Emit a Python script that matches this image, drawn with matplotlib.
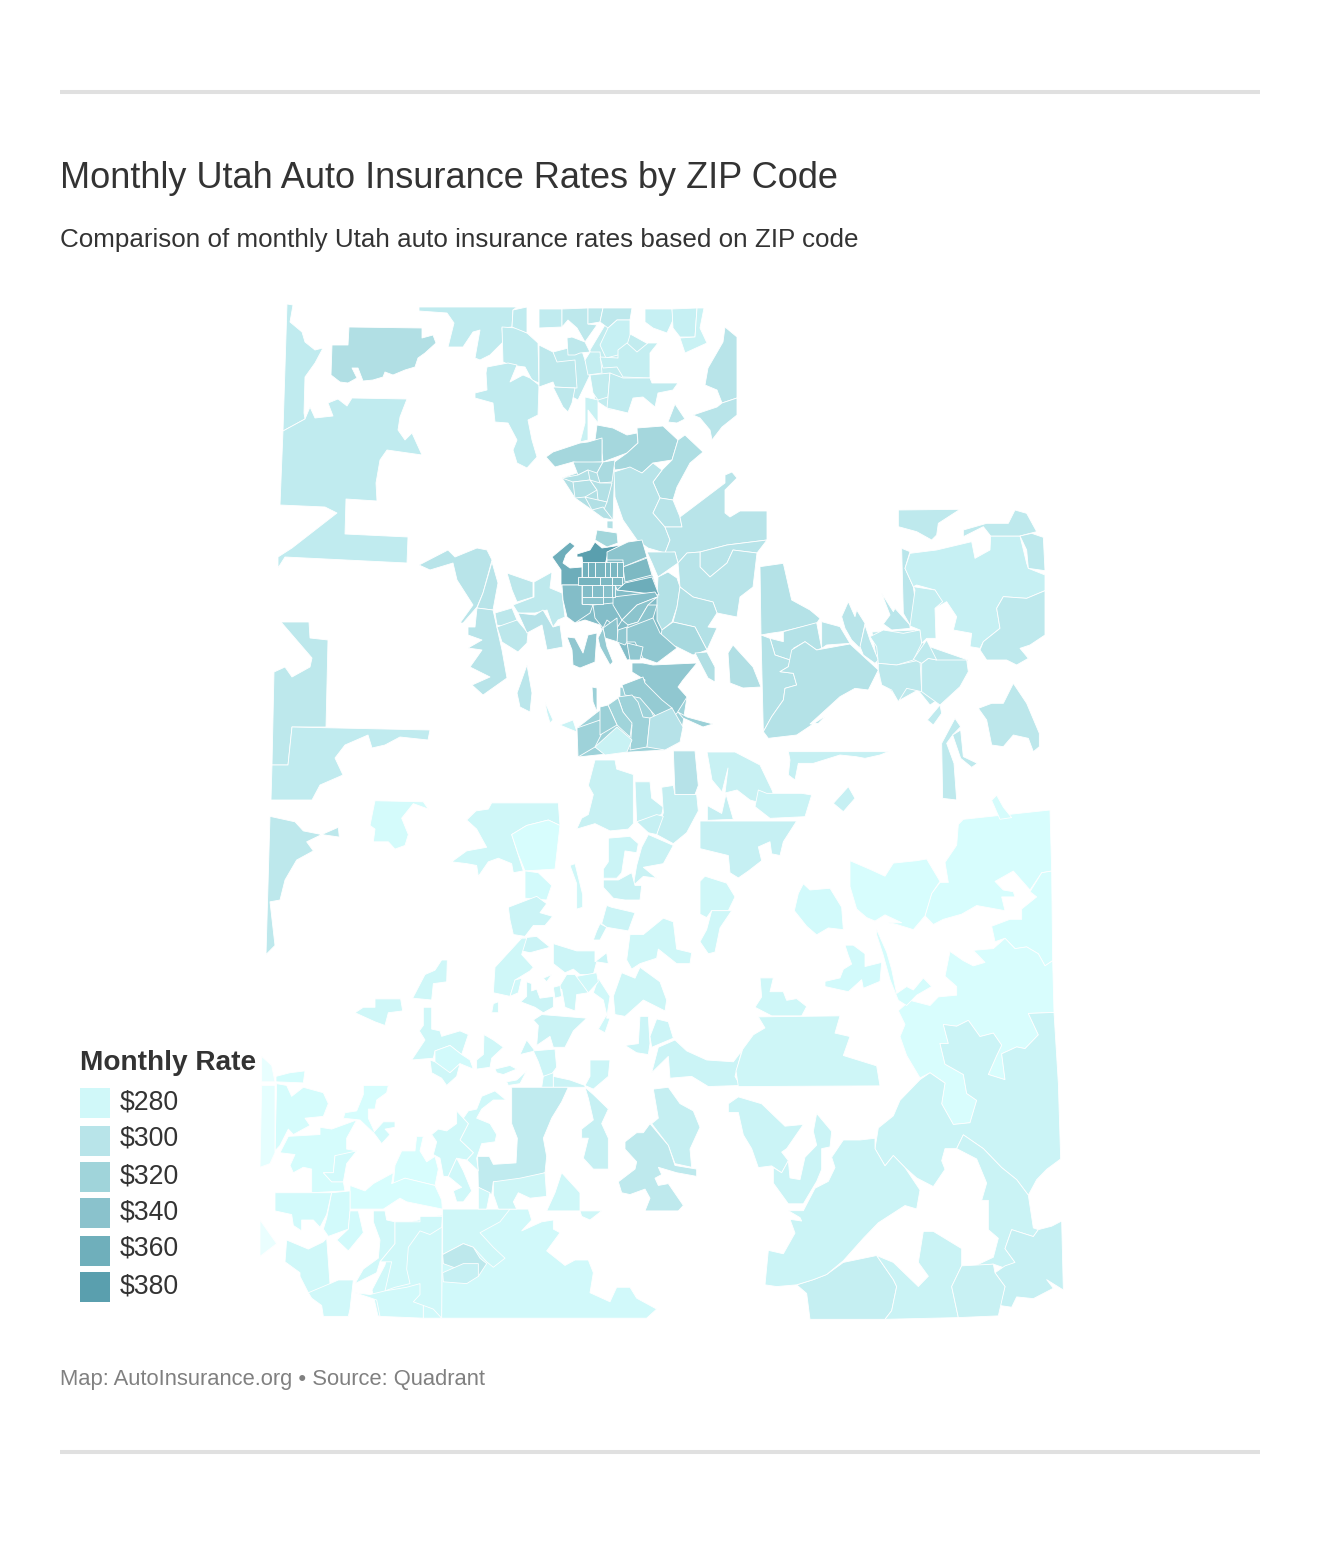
import matplotlib
matplotlib.use("Agg")
import matplotlib.pyplot as plt
from matplotlib.collections import PolyCollection
import numpy as np

plt.rcParams['font.family'] = ['Liberation Sans', 'DejaVu Sans']

title = "Monthly Utah Auto Insurance Rates by ZIP Code"
subtitle = "Comparison of monthly Utah auto insurance rates based on ZIP code"
footer = "Map: AutoInsurance.org \u2022 Source: Quadrant"
legend_title = "Monthly Rate"
legend_rates = [280, 300, 320, 340, 360, 380]
legend_labels = ["$280", "$300", "$320", "$340", "$360", "$380"]
legend_colors = ["#d0f8f9", "#b8e4e9", "#a0d4da", "#8ac2cc", "#6fafbb", "#5a9fae"]

# larger areas that sit under the small ZIPs
under_zips = [
    (292, [(590,350),(605,325),(632,335),(650,345),(650,380),(640,395),(610,410),(595,400)]),
    (294, [(553,352),(580,345),(590,375),(578,400),(555,388)]),
    (306, [(562,478),(615,460),(613,520),(603,518),(592,510),(575,498)]),
    (345, [(561,585),(660,592),(677,648),(657,663),(643,658),(627,660),(618,642),(605,638),(600,625),(585,620),(575,623)]),
    (322, [(620,687),(687,697),(680,742),(665,750),(630,752),(597,755),(578,757),(577,728),(600,710),(620,697)]),
    (345, [(607,552),(628,542),(647,558),(659,595),(617,590),(607,562)]),
    (296, [(872,632),(915,630),(925,645),(968,660),(960,685),(930,705),(918,690),(900,700),(880,680)]),
    (280, [(395,1225),(442,1215),(442,1318),(378,1316),(372,1290),(385,1265)]),
]

# ZIP outlines, (rate, outline). in plain pixels
north_zips = [
    (293, [(287,304),(293,305),(290,322),(302,332),(305,342),(315,350),(323,348),(315,363),(305,377),(304,413),(305,419),(283,431)]),
    (306, [(349,327),(422,328),(422,338),(433,335),(436,343),(425,353),(418,358),(415,367),(405,370),(393,375),(385,372),(383,377),(373,380),(363,381),(358,368),(352,368),(357,378),(348,383),(340,382),(331,375),(332,345),(348,345)]),
    (293, [(283,431),(305,419),(310,407),(315,418),(333,416),(328,403),(338,399),(347,406),(352,398),(407,399),(400,417),(398,430),(405,440),(412,433),(422,455),(387,450),(380,460),(376,483),(377,501),(346,499),(345,534),(408,537),(407,563),(285,557),(278,568),(278,557),(292,548),(337,513),(325,507),(280,505)]),
    (296, [(281,622),(309,622),(310,638),(328,640),(326,727),(292,727),(288,765),(272,765),(274,672),(285,667),(292,677),(310,667),(312,658)]),
    (293, [(292,727),(430,730),(428,740),(400,737),(385,745),(372,748),(368,735),(345,745),(335,758),(343,775),(320,785),(312,800),(271,800),(272,765),(288,765)]),
    (293, [(419,307),(517,307),(513,310),(512,327),(502,328),(503,342),(490,355),(480,360),(475,358),(480,330),(473,332),(463,347),(448,347),(454,323),(447,313),(419,311)]),
    (293, [(502,327),(517,328),(527,333),(538,343),(539,383),(532,380),(525,367),(510,365),(503,362)]),
    (293, [(513,310),(527,307),(527,333),(512,327)]),
    (293, [(487,367),(508,363),(517,365),(510,382),(523,375),(530,378),(539,385),(538,415),(528,420),(532,440),(537,457),(527,468),(517,463),(513,450),(517,440),(508,423),(495,422),(493,403),(475,398),(475,393),(487,390),(486,373)]),
    (293, [(539,309),(562,309),(562,327),(539,328)]),
    (296, [(562,309),(588,308),(588,324),(597,325),(585,342),(577,328),(568,320),(562,327)]),
    (296, [(588,308),(603,308),(600,322),(588,324)]),
    (296, [(603,308),(632,308),(630,320),(617,320),(608,328),(600,322)]),
    (288, [(608,328),(617,320),(630,320),(630,335),(627,345),(618,355),(606,358),(600,345)]),
    (296, [(539,345),(553,352),(557,362),(575,360),(577,388),(555,387),(553,382),(539,387)]),
    (296, [(567,338),(572,337),(585,342),(590,352),(580,353),(575,355),(568,355)]),
    (296, [(553,387),(575,388),(572,403),(568,412),(563,407),(558,397)]),
    (290, [(590,352),(600,352),(602,373),(588,375),(585,360)]),
    (292, [(590,375),(610,373),(608,397),(598,400),(593,393)]),
    (290, [(600,357),(618,358),(618,350),(627,343),(637,352),(648,343),(658,343),(650,353),(650,378),(623,377),(617,367),(603,368)]),
    (293, [(610,373),(623,378),(650,378),(652,383),(678,383),(673,390),(658,393),(655,407),(643,397),(633,398),(628,413),(607,408),(608,397)]),
    (287, [(585,397),(598,400),(598,423),(588,410),(588,440),(580,442),(585,423)]),
    (288, [(645,309),(672,309),(673,320),(667,333),(653,328),(645,322)]),
    (288, [(672,309),(697,308),(695,337),(680,337),(673,328)]),
    (286, [(697,308),(704,308),(700,328),(707,343),(685,353),(680,338),(695,337)]),
    (300, [(725,327),(737,337),(737,398),(722,403),(717,390),(705,385),(708,368),(723,342)]),
    (300, [(722,403),(737,398),(737,415),(722,427),(712,440),(710,430),(700,418),(693,415),(717,407)]),
    (300, [(668,422),(675,404),(685,419),(677,423)]),
    (316, [(597,425),(613,428),(627,435),(637,433),(638,443),(627,453),(603,462),(602,453),(602,440),(595,440)]),
    (316, [(588,442),(602,438),(602,462),(580,463),(573,462),(555,467),(546,457),(553,452),(580,443)]),
    (316, [(637,428),(663,426),(678,440),(672,460),(653,463),(642,473),(630,468),(615,470),(613,463),(627,453),(638,443)]),
    (308, [(678,440),(685,435),(703,452),(690,463),(677,487),(673,500),(660,498),(653,482),(662,470),(672,460)]),
    (312, [(573,462),(603,462),(597,473),(588,470),(578,475)]),
    (312, [(603,462),(615,460),(612,482),(600,483),(597,473)]),
    (305, [(562,478),(578,475),(588,470),(590,480),(573,482)]),
    (305, [(573,482),(590,480),(597,490),(585,497),(575,498)]),
    (305, [(590,480),(600,483),(612,483),(607,502),(598,500),(597,490)]),
    (305, [(585,497),(598,500),(607,502),(603,512),(592,510)]),
    (305, [(592,510),(603,507),(613,520),(603,518)]),
    (305, [(607,521),(613,521),(613,529),(607,528)]),
    (300, [(614,472),(630,467),(642,473),(653,463),(662,470),(653,482),(660,498),(653,513),(665,527),(670,540),(665,553),(648,548),(637,540),(623,520),(615,497)]),
    (300, [(660,498),(673,500),(680,517),(682,527),(665,527),(653,513)]),
    (300, [(680,517),(725,483),(725,475),(732,472),(737,478),(725,490),(725,513),(730,517),(740,511),(767,511),(767,540),(727,545),(700,552),(687,553),(678,563),(675,552),(665,553),(670,540),(665,527),(682,527)]),
    (300, [(700,552),(727,545),(767,540),(757,553),(733,550),(727,563),(710,577),(700,567)]),
    (300, [(678,563),(687,553),(700,552),(700,567),(710,577),(727,563),(733,550),(757,553),(753,587),(740,597),(737,617),(717,613),(713,602),(693,597),(680,587)]),
    (300, [(647,552),(675,552),(678,563),(668,570),(658,577),(652,563)]),
    (304, [(658,577),(668,572),(677,578),(680,587),(677,607),(672,622),(662,630),(657,620),(657,597)]),
    (304, [(680,587),(693,597),(713,602),(717,613),(708,627),(717,628),(707,650),(695,627),(673,622),(677,607)]),
    (314, [(673,622),(695,627),(707,650),(693,655),(677,647),(660,640),(662,630)]),
    (306, [(695,653),(707,652),(715,667),(715,682),(708,678)]),
    (306, [(733,645),(753,667),(761,687),(743,688),(730,683),(728,653)]),
    (287, [(707,752),(735,752),(760,765),(772,790),(778,808),(750,800),(737,790),(725,793),(728,768),(722,792),(712,780)]),
    # tooele side
    (300, [(419,565),(448,550),(455,557),(477,548),(487,550),(492,560),(483,593),(477,607),(463,623),(460,623),(473,605),(457,580),(453,563),(430,570)]),
    (300, [(492,562),(498,583),(493,610),(477,608),(483,593)]),
    (300, [(477,608),(493,610),(502,650),(507,678),(483,695),(472,685),(490,677),(470,667),(482,650),(468,648),(482,640),(468,635),(468,627),(475,627)]),
    (297, [(507,573),(533,582),(533,597),(517,602),(512,590)]),
    (295, [(534,582),(552,572),(550,588),(562,593),(565,617),(558,620),(553,627),(547,610),(535,613),(518,613),(513,605),(534,597)]),
    (297, [(495,613),(512,608),(517,620),(505,627),(497,625)]),
    (297, [(497,627),(517,620),(528,633),(527,643),(518,652),(502,642)]),
    (302, [(518,613),(535,615),(543,610),(553,627),(560,625),(563,647),(547,650),(542,625),(527,633)]),
    (298, [(527,665),(532,693),(530,712),(520,707),(517,693)]),
    (285, [(545,702),(553,720),(550,723),(547,713)]),
    (285, [(560,725),(573,720),(577,732),(567,728)]),
]

# salt lake and utah counties
metro_zips = [
    (362, [(552,557),(570,542),(575,546),(566,555),(563,563),(570,568),(582,567),(582,585),(561,585),(561,570)]),
    (380, [(577,554),(590,550),(595,542),(602,548),(622,545),(608,552),(607,557),(605,565),(583,565),(582,557),(577,557)]),
    (318, [(597,530),(617,533),(618,543),(607,547),(595,540)]),
    (338, [(607,552),(628,542),(642,540),(647,557),(623,567),(623,560),(607,560)]),
    (350, [(623,567),(647,558),(652,575),(625,582)]),
    (362, [(625,583),(652,577),(659,595),(635,592),(617,590)]),
    (345, [(562,585),(582,585),(582,604),(593,605),(590,613),(575,623),(567,617),(563,600)]),
    (345, [(593,605),(613,603),(622,620),(617,628),(607,620),(603,628),(595,618)]),
    (345, [(613,597),(655,592),(658,597),(637,605),(622,620),(613,605)]),
    (338, [(622,620),(637,605),(657,597),(648,605),(638,622),(628,625)]),
    (338, [(628,625),(638,622),(648,605),(657,605),(653,618),(637,628),(627,633)]),
    (338, [(603,628),(617,618),(618,642),(605,638)]),
    (335, [(618,630),(627,627),(627,642),(625,645),(617,642)]),
    (335, [(627,628),(653,618),(660,633),(677,648),(657,663),(643,658),(635,642),(627,642)]),
    (335, [(627,643),(643,647),(640,660),(630,660)]),
    (335, [(567,637),(575,638),(583,653),(588,635),(597,633),(595,662),(580,668),(573,665),(572,650)]),
    (330, [(598,638),(603,628),(607,647),(613,662),(610,665),(600,647)]),
    (335, [(632,663),(643,663),(653,665),(697,663),(683,680),(678,687),(687,697),(677,713),(667,723),(653,715),(643,693),(645,680),(632,672)]),
    (330, [(622,685),(643,677),(645,683),(662,700),(672,708),(662,723),(652,712),(640,698),(625,695)]),
    (322, [(618,697),(632,695),(638,702),(643,717),(650,718),(647,747),(630,750),(632,725),(623,712)]),
    (320, [(608,705),(618,698),(623,712),(632,723),(630,737),(617,725)]),
    (322, [(577,728),(600,720),(602,733),(595,747),(578,757)]),
    (325, [(600,707),(608,705),(617,725),(600,735)]),
    (325, [(592,687),(597,688),(597,712),(593,702)]),
    (286, [(595,747),(617,727),(632,740),(627,752),(605,755)]),
    (302, [(647,747),(650,718),(672,708),(683,727),(680,742),(665,750)]),
    (325, [(678,712),(687,717),(713,724),(703,727),(683,718)]),
]

# little cells in the city, x0 x1 y0 y1 rate
city_x0 = [582,588,595,605,610,617, 578,600,612, 582,592,603,612, 582]
city_x1 = [588,595,605,610,617,623, 600,612,622, 592,603,612,615, 603]
city_y0 = [562,562,562,562,562,562, 577,577,577, 585,585,585,585, 597]
city_y1 = [577,577,577,577,577,577, 585,585,585, 597,597,597,597, 604]
city_rate = [358,358,355,352,352,350, 355,350,350, 345,345,342,342, 340]

# northeast, origin 750,500
ne_zips = [
    (303, [(30,200),(100,190),(125,300),(180,330),(210,355),(200,370),(95,395),(60,400),(33,405)]),
    (303, [(60,415),(100,425),(100,395),(200,368),(215,445),(200,450),(165,425),(130,445),(120,480),(75,465)]),
    (303, [(33,405),(60,415),(75,465),(120,480),(115,500),(90,515),(130,520),(140,555),(105,565),(100,600),(65,650),(40,695)]),
    (303, [(125,450),(165,425),(200,450),(300,432),(385,510),(355,570),(315,565),(270,590),(180,672),(205,670),(265,610),(230,645),(170,685),(140,705),(55,715),(40,695),(65,650),(100,600),(105,565),(140,555),(130,520),(90,515),(115,500)]),
    (300, [(215,365),(270,380),(300,430),(230,435),(215,445)]),
    (300, [(275,350),(295,305),(315,350),(320,330),(345,370),(330,445),(305,420),(285,385)]),
    (298, [(345,375),(360,420),(385,480),(375,490),(340,465),(330,440)]),
    (293, [(360,410),(400,390),(460,400),(510,390),(515,430),(490,480),(440,495),(385,490),(380,440)]),
    (298, [(395,280),(430,335),(435,325),(480,375),(480,385),(425,390),(400,372),(420,345)]),
    (296, [(385,510),(385,490),(440,495),(510,480),(515,575),(470,565),(445,605),(425,570),(395,555)]),
    (294, [(515,490),(535,475),(560,480),(650,480),(655,515),(630,560),(570,615),(515,575)]),
    (294, [(490,478),(530,420),(560,480),(535,475),(515,490)]),
    (294, [(532,660),(570,615),(575,640),(550,675)]),
    (298, [(455,145),(480,155),(465,205),(490,260),(505,370),(480,375),(460,340)]),
    (288, [(480,160),(560,150),(665,125),(675,175),(720,150),(722,108),(810,108),(830,190),(835,205),(885,225),(885,272),(830,295),(760,290),(740,325),(750,385),(700,425),(690,445),(660,440),(665,400),(610,390),(620,350),(590,305),(555,325),(575,305),(555,270),(500,255),(490,260),(465,205)]),
    (290, [(490,260),(555,270),(578,305),(555,325),(558,415),(530,415),(515,430),(510,390),(480,378),(495,270)]),
    (295, [(760,290),(830,295),(885,272),(885,405),(840,435),(810,445),(835,475),(800,495),(770,480),(710,480),(690,450),(700,425),(750,385),(740,325)]),
    (295, [(445,30),(630,28),(565,70),(560,105),(545,120),(500,95),(445,80)]),
    (295, [(640,90),(710,70),(775,70),(795,30),(830,40),(860,95),(840,100),(810,108),(722,108),(700,80),(640,110)]),
    (295, [(810,108),(845,100),(880,112),(885,212),(835,205),(830,150)]),
    (297, [(685,625),(725,610),(760,610),(790,550),(830,610),(868,700),(868,740),(850,755),(835,715),(790,705),(760,740),(725,735),(710,660)]),
    (295, [(575,730),(615,655),(632,680),(608,705),(590,730),(612,790),(620,900),(578,895)]),
    (295, [(632,690),(640,770),(682,790),(665,802),(632,775),(608,705)]),
    (288, [(115,755),(415,755),(390,765),(345,775),(318,770),(270,765),(190,790),(145,790),(135,840),(115,825),(120,780)]),
    (285, [(50,880),(155,880),(185,885),(165,950),(60,955),(15,920),(25,870)]),
    (288, [(250,910),(295,860),(315,895),(280,935)]),
]

# middle and southwest, origin 260,760
sw_zips = [
    (296, [(30,155),(105,170),(130,195),(185,205),(235,185),(238,212),(185,205),(140,225),(160,250),(110,275),(75,330),(60,385),(30,390),(45,510),(18,535)]),
    (277, [(345,112),(490,115),(505,135),(460,120),(425,160),(445,205),(435,235),(405,245),(385,225),(340,225),(345,190),(330,180)]),
    (281, [(695,118),(895,118),(900,180),(865,165),(800,180),(755,205),(790,305),(760,310),(755,285),(715,270),(685,280),(655,320),(650,290),(620,285),(575,280),(620,250),(680,240),(650,190),(620,165),(648,140),(685,135)]),
    (274, [(755,205),(800,180),(865,165),(900,180),(885,300),(795,305),(775,260)]),
    (278, [(795,305),(835,310),(875,345),(860,385),(795,380)]),
    (287, [(950,190),(965,160),(985,150),(1000,95),(985,70),(1005,0),(1065,0),(1070,25),(1120,40),(1120,175),(1105,190),(1050,195),(1005,175)]),
    (288, [(1125,60),(1170,60),(1175,105),(1210,130),(1205,150),(1130,170)]),
    (290, [(1205,75),(1240,70),(1245,95),(1310,95),(1315,140),(1280,200),(1240,230),(1190,205),(1210,145)]),
    (302, [(1240,-25),(1305,-25),(1315,70),(1305,95),(1245,95)]),
    (288, [(1130,170),(1190,150),(1210,155),(1190,205),(1165,200)]),
    (286, [(1165,205),(1240,235),(1210,285),(1150,295),(1190,325),(1150,320),(1120,345),(1130,290),(1145,240)]),
    (284, [(1045,215),(1110,210),(1135,230),(1130,255),(1095,250),(1085,310),(1070,325),(1030,325),(1030,300),(1045,280)]),
    (286, [(1030,330),(1075,330),(1115,310),(1125,345),(1145,345),(1140,385),(1095,385),(1060,380),(1030,350)]),
    (284, [(1040,400),(1055,405),(1125,420),(1105,470),(1040,460),(1025,450)]),
    (284, [(1020,450),(1040,460),(1020,495),(1000,495),(1010,470)]),
    (281, [(930,290),(945,285),(968,370),(968,405),(950,410),(950,340)]),
    (284, [(745,405),(830,375),(860,395),(840,420),(878,430),(855,455),(820,455),(795,485),(760,480),(750,440)]),
    (284, [(780,490),(830,485),(870,515),(810,530),(785,525)]),
    (283, [(880,505),(950,525),(1005,525),(1005,555),(1040,530),(1045,560),(1010,555),(1000,590),(960,590),(940,575),(915,585),(880,560)]),
    (281, [(1110,480),(1150,480),(1210,435),(1240,445),(1250,520),(1295,530),(1290,560),(1250,560),(1195,520),(1190,545),(1140,560),(1115,575),(1100,550)]),
    (282, [(1140,570),(1200,610),(1220,660),(1215,690),(1150,660),(1095,705),(1065,700),(1060,650),(1085,585),(1125,600)]),
    (280, [(1015,600),(1050,650),(1040,710),(1050,710),(1035,750),(1015,740),(1040,700),(1030,660),(1000,640)]),
    (280, [(950,595),(1010,585),(1015,610),(985,640),(950,605)]),
    (282, [(920,590),(945,590),(985,640),(950,645),(945,690),(915,680),(905,630),(885,650),(900,620)]),
    (282, [(850,600),(875,590),(860,610)]),
    (284, [(800,610),(815,615),(815,635),(830,630),(840,655),(880,650),(880,680),(850,695),(825,680),(782,665),(800,650)]),
    (282, [(880,625),(900,620),(905,650),(885,655)]),
    (281, [(785,490),(705,570),(700,640),(750,650),(765,605),(810,580),(820,570),(785,535),(800,490)]),
    (281, [(700,670),(715,665),(715,695),(695,695)]),
    (280, [(750,650),(765,605),(785,600),(775,640)]),
    (281, [(545,550),(562,550),(560,610),(520,615),(515,660),(458,655),(495,590),(525,578)]),
    (281, [(345,657),(422,657),(428,690),(385,695),(375,730),(345,720),(285,695),(310,680),(345,680)]),
    (281, [(490,680),(515,680),(515,740),(540,745),(545,760),(600,745),(625,755),(605,810),(570,785),(525,800),(520,820),(455,825),(495,770),(478,745),(490,730)]),
    (278, [(525,800),(570,785),(605,810),(630,825),(640,850),(600,835),(570,860),(545,855),(525,830)]),
    (281, [(510,825),(525,830),(570,860),(600,835),(590,870),(560,895),(545,875),(515,860)]),
    (281, [(672,755),(700,770),(730,790),(695,820),(690,845),(650,850),(650,825),(670,810)]),
    (281, [(705,850),(750,840),(770,850),(730,865),(710,860)]),
    (281, [(800,855),(780,890),(745,895),(740,885),(770,880)]),
    (285, [(845,700),(980,710),(940,745),(915,790),(880,790),(870,760),(830,785),(835,730),(820,715)]),
    (283, [(800,770),(825,800),(780,810)]),
    (283, [(820,800),(885,795),(890,845),(870,870),(850,870),(835,830)]),
    (283, [(850,870),(880,860),(880,900),(845,900)]),
    (285, [(880,870),(930,880),(975,895),(975,900),(880,900)]),
    (283, [(975,895),(990,870),(990,825),(1050,825),(1045,870),(1000,905)]),
    (283, [(1095,785),(1135,780),(1140,705),(1165,705),(1170,780),(1165,810),(1130,805)]),
    (283, [(1175,790),(1240,765),(1225,720),(1190,712),(1170,760)]),
    (284, [(1175,860),(1195,790),(1245,770),(1280,800),(1340,825),(1420,830),(1445,800),(1425,870),(1440,895),(1345,898),(1295,870),(1230,875),(1225,815)]),
    (293, [(755,900),(925,900),(905,940),(875,985),(850,1040),(860,1090),(855,1135),(800,1150),(740,1160),(700,1160),(695,1195),(655,1175),(653,1090),(688,1090),(700,1112),(768,1108),(772,1040),(755,1000)]),
    (288, [(975,900),(1000,920),(1045,960),(1025,1000),(1045,1040),(1045,1125),(1000,1125),(970,1095),(985,1040),(965,1040),(965,1015),(1000,990),(985,930)]),
    (289, [(1180,905),(1225,900),(1260,945),(1300,965),(1320,1010),(1290,1070),(1295,1120),(1245,1110),(1225,1060),(1175,1000),(1195,985)]),
    (295, [(1095,1050),(1130,1025),(1150,1025),(1170,1000),(1225,1060),(1245,1115),(1310,1125),(1310,1145),(1250,1135),(1195,1120),(1205,1140),(1185,1150),(1195,1170),(1225,1165),(1270,1225),(1255,1240),(1155,1240),(1170,1205),(1155,1180),(1110,1195),(1085,1190),(1075,1160),(1125,1125),(1130,1105),(1095,1070)]),
    (280, [(650,960),(665,925),(705,910),(738,935),(700,935),(665,960),(650,985),(690,1000),(710,1030),(705,1050),(665,1055),(650,1095),(655,1130),(620,1100),(640,1080),(600,1045),(625,1000),(610,985),(625,965)]),
    (280, [(515,1030),(535,1015),(560,1020),(590,1000),(590,965),(610,985),(625,1000),(600,1045),(640,1080),(620,1100),(590,1095),(565,1145),(550,1145),(540,1095),(520,1085),(530,1050)]),
    (280, [(590,1095),(610,1130),(635,1185),(610,1215),(590,1215),(580,1185),(605,1175),(565,1145)]),
    (274, [(425,1075),(465,1075),(470,1035),(490,1035),(480,1075),(500,1105),(525,1090),(535,1125),(525,1170),(435,1150),(400,1165),(405,1115)]),
    (274, [(310,895),(385,895),(380,915),(350,935),(345,960),(325,960),(325,985),(345,1025),(340,1025),(300,990),(250,985),(255,970),(290,965),(310,920)]),
    (278, [(340,1025),(370,995),(405,995),(405,1010),(375,1015),(390,1030),(365,1055),(345,1030)]),
    (274, [(270,1170),(315,1185),(340,1165),(400,1135),(395,1165),(435,1150),(525,1170),(545,1210),(547,1235),(440,1215),(420,1205),(370,1235),(270,1235)]),
    (276, [(50,890),(80,895),(95,925),(130,900),(190,915),(205,945),(190,980),(135,985),(150,1005),(100,1030),(85,1015),(60,1060),(45,1075)]),
    (276, [(85,1035),(180,1030),(180,1010),(215,1015),(290,990),(260,1040),(260,1070),(290,1075),(270,1095),(225,1088),(220,1135),(190,1135),(215,1160),(250,1160),(255,1185),(155,1190),(155,1125),(130,1120),(100,1135),(90,1115),(105,1085),(60,1080)]),
    (278, [(225,1088),(290,1075),(260,1110),(250,1160),(215,1160),(190,1135),(220,1135)]),
    (278, [(45,1190),(160,1190),(215,1190),(200,1250),(180,1285),(160,1265),(125,1265),(125,1295),(100,1280),(95,1250),(45,1240)]),
    (278, [(215,1190),(270,1185),(270,1240),(265,1290),(205,1310),(190,1290),(200,1260)]),
    (278, [(270,1240),(295,1240),(310,1300),(265,1350),(230,1320),(265,1290)]),
    (255, [(5,815),(35,840),(45,885),(5,885)]),
    (258, [(5,895),(45,895),(45,1080),(30,1110),(0,1120)]),
    (276, [(48,870),(90,860),(135,855),(130,888),(48,885)]),
    (252, [(0,1265),(50,1330),(0,1365)]),
    (280, [(80,1320),(145,1345),(190,1325),(200,1315),(210,1440),(190,1465),(145,1465),(120,1420),(120,1410),(75,1380)]),
    (280, [(145,1465),(210,1440),(235,1430),(280,1430),(270,1510),(265,1530),(190,1530),(185,1500),(155,1480)]),
    (280, [(340,1240),(375,1240),(380,1265),(405,1270),(405,1330),(360,1380),(350,1410),(285,1440),(310,1400),(355,1370),(360,1320),(340,1270)]),
    (280, [(405,1270),(480,1270),(480,1255),(547,1255),(545,1285),(510,1305),(480,1295),(445,1340),(440,1400),(450,1440),(405,1450),(375,1460),(395,1380),(360,1380),(405,1330)]),
    (279, [(285,1465),(330,1470),(375,1460),(440,1450),(480,1440),(480,1470),(460,1490),(490,1500),(490,1535),(360,1530),(350,1485)]),
    (279, [(490,1500),(520,1510),(545,1535),(490,1535)]),
    (279, [(548,1235),(805,1235),(815,1265),(785,1295),(845,1270),(880,1265),(880,1290),(900,1300),(860,1350),(915,1390),(945,1375),(985,1375),(1000,1410),(990,1465),(1050,1490),(1070,1450),(1110,1450),(1130,1480),(1190,1510),(1160,1535),(545,1535)]),
    (281, [(548,1235),(750,1235),(720,1270),(660,1300),(700,1340),(735,1370),(700,1395),(680,1380),(640,1340),(610,1330),(548,1360)]),
    (296, [(548,1360),(610,1330),(640,1340),(660,1370),(680,1385),(655,1420),(550,1385)]),
    (288, [(548,1410),(610,1385),(655,1385),(655,1420),(620,1440),(550,1435)]),
    (281, [(860,1240),(885,1190),(905,1135),(960,1190),(960,1240)]),
    (282, [(700,1160),(780,1150),(855,1135),(860,1200),(810,1205),(775,1190),(760,1215),(770,1235),(715,1235),(700,1195)]),
    (280, [(655,1175),(690,1190),(680,1235),(655,1235)]),
    (281, [(960,1240),(1025,1240),(990,1265),(965,1255)]),
]

# southeast, origin 700,790
se_zips = [
    (274, [(790,85),(1050,58),(1055,235),(1025,240),(990,290),(940,235),(885,265),(910,290),(940,295),(945,310),(905,310),(915,350),(830,335),(785,360),(730,375),(700,390),(675,365),(695,300),(720,268),(745,268),(735,210),(770,160),(775,100)]),
    (276, [(875,30),(890,15),(910,50),(935,80),(900,85)]),
    (274, [(450,205),(510,230),(555,250),(580,212),(650,205),(680,200),(720,265),(695,300),(675,365),(640,405),(590,390),(565,385),(605,385),(555,362),(525,380),(500,370),(470,345),(450,280)]),
    (278, [(295,300),(310,272),(330,290),(390,285),(425,340),(430,405),(385,400),(350,420),(320,395),(283,350)]),
    (278, [(435,450),(460,450),(495,475),(495,512),(545,500),(540,555),(490,575),(485,550),(445,585),(375,570),(375,555),(420,545),(430,520),(455,505),(445,480)]),
    (274, [(875,395),(930,375),(965,375),(965,345),(1010,310),(990,295),(1025,240),(1055,235),(1058,495),(1035,510),(1015,475),(980,455),(945,460),(915,430),(885,440)]),
    (273, [(820,465),(880,460),(915,430),(945,460),(980,455),(1015,475),(1035,510),(1058,495),(1062,645),(985,648),(1015,710),(975,750),(950,745),(905,765),(915,840),(865,825),(890,770),(905,740),(880,705),(840,715),(805,668),(770,685),(730,680),(745,735),(720,735),(735,795),(790,825),(800,880),(830,900),(810,965),(760,970),(725,910),(735,850),(690,820),(660,835),(620,770),(600,715),(615,680),(595,640),(630,610),(690,625),(715,600),(770,595),(770,570),(735,540),(750,468),(790,495),(820,510),(855,500)]),
    (276, [(530,405),(560,470),(575,520),(590,590),(620,570),(640,580),(670,545),(695,570),(650,595),(620,625),(595,610),(570,550),(550,480),(530,420)]),
    (284, [(1062,645),(1075,850),(1082,1070),(1040,1100),(1010,1130),(985,1175),(950,1130),(905,1095),(850,1040),(790,1000),(770,1040),(735,1040),(725,1075),(735,1100),(700,1150),(650,1125),(615,1095),(580,1060),(555,1090),(525,1040),(535,980),(580,945),(600,900),(660,840),(690,820),(735,850),(725,910),(760,970),(810,965),(830,900),(800,880),(790,825),(735,795),(720,735),(745,735),(730,680),(770,685),(805,668),(840,715),(880,705),(905,740),(890,770),(865,825),(915,840),(905,765),(950,745),(975,750),(1015,710),(985,648)]),
    (285, [(790,1000),(850,1040),(905,1095),(950,1130),(985,1175),(1000,1270),(1015,1275),(1000,1295),(935,1275),(915,1330),(945,1370),(910,1385),(880,1375),(825,1380),(880,1355),(895,1300),(865,1275),(865,1190),(845,1190),(860,1140),(830,1070),(770,1040)]),
    (288, [(1085,1250),(1090,1450),(1040,1420),(1060,1445),(1000,1475),(950,1470),(935,1500),(900,1495),(915,1440),(885,1400),(915,1380),(945,1370),(915,1330),(935,1275),(1000,1295),(1015,1275),(1055,1265)]),
    (289, [(330,1535),(320,1460),(290,1435),(340,1420),(380,1405),(430,1370),(530,1350),(580,1420),(590,1440),(575,1510),(555,1535)]),
    (285, [(555,1535),(575,1510),(590,1440),(580,1420),(530,1350),(580,1370),(655,1440),(685,1410),(655,1370),(670,1280),(700,1280),(785,1330),(785,1380),(755,1440),(775,1530)]),
    (287, [(775,1530),(755,1440),(785,1380),(880,1375),(885,1400),(915,1440),(895,1525)]),
    (284, [(195,1435),(205,1335),(250,1345),(285,1285),(270,1245),(305,1250),(300,1240),(265,1220),(310,1220),(345,1155),(385,1135),(405,1095),(395,1065),(430,1015),(480,1015),(525,1010),(525,1040),(555,1090),(580,1060),(615,1095),(660,1160),(650,1215),(615,1205),(535,1255),(490,1300),(430,1365),(380,1405),(340,1420),(290,1435),(230,1440)]),
    (284, [(85,910),(115,890),(185,910),(255,975),(310,970),(260,1040),(245,1050),(265,1075),(245,1110),(215,1090),(175,1095),(155,1040),(130,1000),(115,935),(85,935)]),
    (284, [(350,938),(395,990),(390,1035),(365,1040),(365,1100),(350,1135),(310,1200),(265,1200),(220,1140),(220,1095),(245,1110),(265,1075),(270,1125),(300,1130),(315,1065),(350,1030),(340,990)]),
    (281, [(180,545),(220,545),(210,585),(250,585),(260,610),(290,605),(320,628),(305,655),(215,655),(165,630),(185,600)]),
    (282, [(175,658),(420,655),(405,705),(450,715),(430,770),(480,785),(530,800),(540,858),(115,860),(108,815),(128,752),(160,710),(195,690)]),
    (288, [(0,90),(290,90),(250,150),(240,190),(215,185),(210,150),(175,165),(185,205),(145,235),(115,255),(90,240),(85,190),(0,170)]),
    (281, [(0,265),(15,250),(80,270),(105,310),(85,350),(35,350),(20,370),(0,360)]),
    (281, [(35,350),(95,350),(60,400),(45,470),(25,475),(0,440),(20,405)]),
    (289, [(22,45),(65,68),(78,12),(100,85),(22,88)]),
]


def rate_color(rate):
    # pale end goes on below 280
    rates = [250, 275] + legend_rates
    rgb = np.array([matplotlib.colors.to_rgb(c) for c in ["#ecfefe", "#d6fdfd"] + legend_colors])
    return [np.interp(rate, rates, rgb[:, i]) for i in range(3)]


def add_zips(ax, zips, x0=0, y0=0, sx=1, sy=1):
    verts = [[(x0 + x / sx, y0 + y / sy) for x, y in pts] for rate, pts in zips]
    colors = [rate_color(rate) for rate, pts in zips]
    ax.add_collection(PolyCollection(verts, facecolors=colors, edgecolors="white", linewidths=0.6))


fig = plt.figure(figsize=(13.2, 15.44), dpi=100)
ax = fig.add_axes([0, 0, 1, 1])
ax.set_xlim(0, 1320)
ax.set_ylim(1544, 0)
ax.axis("off")

add_zips(ax, under_zips)
add_zips(ax, north_zips)
add_zips(ax, ne_zips, 750, 500, 3, 3)
add_zips(ax, sw_zips, 260, 760, 3, 2.75)
add_zips(ax, se_zips, 700, 790, 3, 2.9)
add_zips(ax, metro_zips)
city = [[(a, c), (b, c), (b, d), (a, d)] for a, b, c, d in zip(city_x0, city_x1, city_y0, city_y1)]
ax.add_collection(PolyCollection(city, facecolors=[rate_color(r) for r in city_rate], edgecolors="white", linewidths=0.6))

ax.plot([60, 1260], [92, 92], color="#e0e0e0", lw=2.9, solid_capstyle="butt")
ax.plot([60, 1260], [1452, 1452], color="#e0e0e0", lw=2.9, solid_capstyle="butt")

ax.text(60, 178, title, fontsize=26, color="#333333", va="center")
ax.text(60, 240, subtitle, fontsize=18.7, color="#333333", va="center")
ax.text(60, 1379, footer, fontsize=15.8, color="#808080", va="center")

ax.text(80, 1063, legend_title, fontsize=20.2, fontweight="bold", color="#333333", va="center")
swatch_y = [1088, 1126, 1162, 1198, 1236, 1272]
label_y = [1103, 1139, 1177, 1213, 1249, 1287]
for y, ly, label, c in zip(swatch_y, label_y, legend_labels, legend_colors):
    ax.fill([80, 110, 110, 80], [y, y, y + 30, y + 30], color=c, lw=0)
    ax.text(120, ly, label, fontsize=19.2, color="#333333", va="center")

fig.savefig("out.png", dpi=100, facecolor="white")
